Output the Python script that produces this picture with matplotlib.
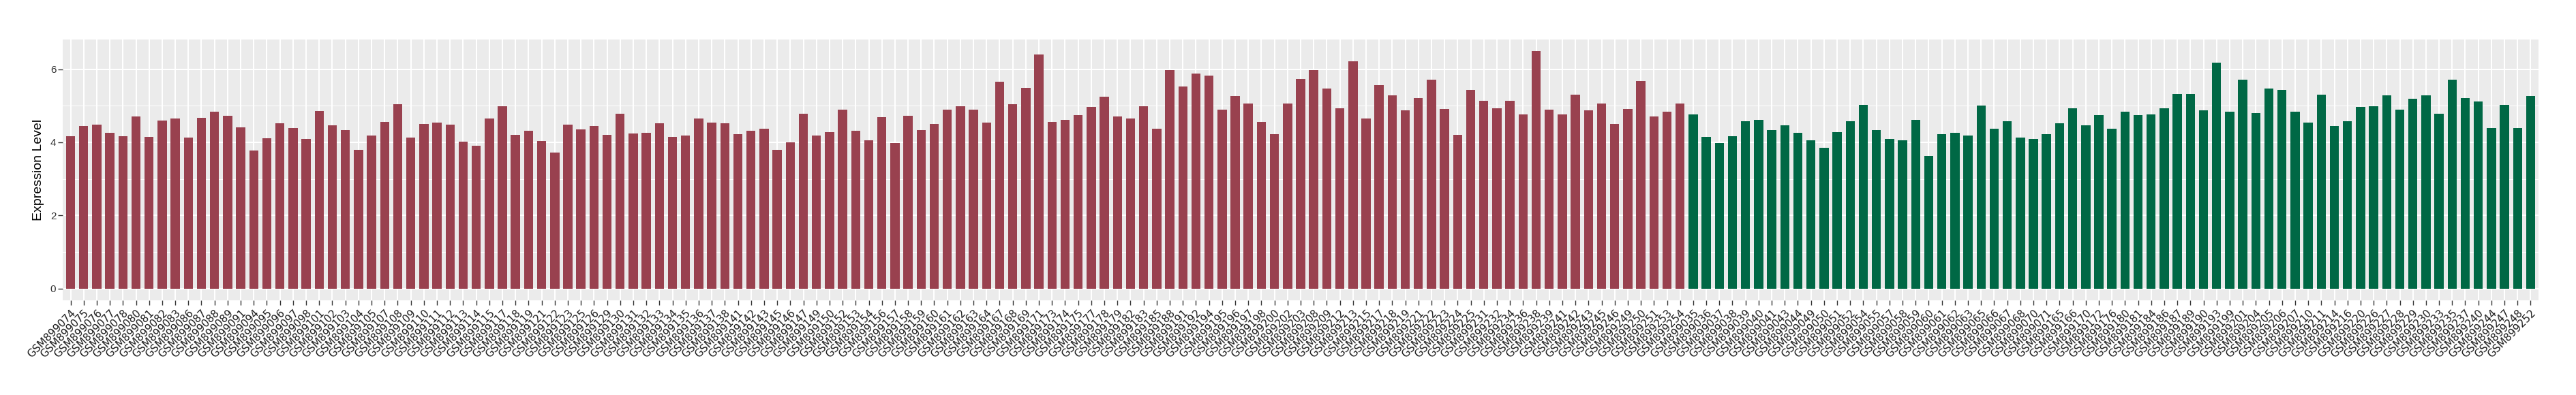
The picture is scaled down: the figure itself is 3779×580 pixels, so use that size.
import numpy as np
import matplotlib
matplotlib.use('Agg')
import matplotlib.pyplot as plt
from matplotlib.ticker import MultipleLocator

# sample ids (GSM899xxx) and expression values
red_ids = [74, 75, 76, 77, 78, 80, 81, 82, 83, 86, 87, 88, 89, 91, 94, 95, 96, 97, 98,
           101, 102, 103, 104, 105, 107, 108, 109, 110, 111, 112, 113, 114,
           115, 117, 118, 119, 121, 122, 123, 125, 126, 129, 130, 131, 132, 133, 134,
           135, 136, 137, 138, 141, 142, 143, 145, 146, 147, 149, 150, 152, 153, 154,
           156, 157, 158, 159, 160, 161,
           162, 163, 164, 167, 168, 169, 171, 173, 174, 175, 177, 178, 179, 182, 183,
           185, 188, 191, 192, 194, 195, 196, 197, 198, 200, 202, 203, 208, 209, 212,
           213, 215, 217, 218, 219, 221, 222,
           223, 224, 225, 231, 232, 234, 236, 238, 239, 241, 242, 243, 245, 246, 249,
           250, 251, 253, 254]
green_ids = [35, 36, 37, 38, 39, 40, 41, 43, 44, 49, 50, 51, 52, 54, 55, 57, 58,
             59, 60, 61, 62, 63, 65, 66, 67, 68, 70, 71,
             165, 166, 170, 172, 176, 180, 181, 184, 186, 187, 189, 190, 193, 199, 201,
             204, 205, 206, 207, 210, 211, 214, 216, 220, 226, 227, 228, 229, 230, 233,
             235, 237, 240, 244, 247, 248, 252]

red_vals = [4.17, 4.45, 4.49, 4.26, 4.17, 4.71, 4.15, 4.60, 4.66, 4.13,
            4.68, 4.83, 4.73, 4.41, 3.78, 4.11, 4.53, 4.39, 4.09, 4.86,
            4.47, 4.34, 3.79, 4.19, 4.56, 5.05, 4.13, 4.51, 4.54, 4.49,
            4.02, 3.91, 4.66, 4.99, 4.21, 4.32, 4.04, 3.72, 4.49, 4.36,
            4.45, 4.21, 4.79, 4.24, 4.26, 4.53, 4.15, 4.19, 4.66, 4.54,
            4.53, 4.23, 4.32, 4.38, 3.79, 4.00, 4.79, 4.19, 4.28, 4.90,
            4.32, 4.06, 4.69, 3.98, 4.73, 4.34, 4.51, 4.90, 4.99, 4.90,
            4.54, 5.65, 5.05, 5.50, 6.40, 4.56, 4.62, 4.75, 4.96, 5.24,
            4.71, 4.66, 4.98, 4.38, 5.97, 5.52, 5.88, 5.82, 4.90, 5.26,
            5.07, 4.56, 4.23, 5.07, 5.74, 5.97, 5.48, 4.94, 6.21, 4.66,
            5.56, 5.28, 4.88, 5.22, 5.72, 4.92, 4.21, 5.44, 5.14, 4.94,
            5.13, 4.77, 6.49, 4.90, 4.77, 5.31, 4.88, 5.07, 4.51, 4.92,
            5.67, 4.71, 4.84, 5.07]
green_vals = [4.77, 4.15, 3.98, 4.17, 4.58, 4.62, 4.34, 4.47, 4.26, 4.06,
              3.85, 4.28, 4.58, 5.03, 4.34, 4.09, 4.06, 4.62, 3.63, 4.23,
              4.26, 4.19, 5.01, 4.38, 4.58, 4.13, 4.09, 4.23, 4.53, 4.94,
              4.47, 4.75, 4.38, 4.84, 4.75, 4.77, 4.94, 5.33, 5.33, 4.88,
              6.19, 4.84, 5.72, 4.81, 5.48, 5.44, 4.84, 4.54, 5.31, 4.45,
              4.58, 4.96, 4.98, 5.29, 4.90, 5.20, 5.29, 4.79, 5.72, 5.22,
              5.11, 4.39, 5.03, 4.39, 5.26]

red_col = '#99414F'
green_col = '#006845'

labels = ['GSM899%03d' % i for i in red_ids + green_ids]
values = red_vals + green_vals
colors = [red_col] * len(red_vals) + [green_col] * len(green_vals)
x = np.arange(len(values))

fig = plt.figure(figsize=(37.8, 5.8), dpi=100)
ax = fig.add_axes([92 / 3780, 1 - 441 / 580, (3724 - 92) / 3780, (441 - 58) / 580])
ax.set_facecolor('#EBEBEB')
ax.bar(x, values, width=0.7, color=colors, zorder=3)

ymax = max(values)
ax.set_ylim(-0.05 * ymax, 1.05 * ymax)
ax.set_xlim(-0.6, len(values) - 0.4)

ax.yaxis.set_major_locator(MultipleLocator(2))
ax.yaxis.set_minor_locator(MultipleLocator(1))
ax.grid(which='major', axis='both', color='white', linewidth=1.5, zorder=0)
ax.grid(which='minor', axis='y', color='white', linewidth=0.75, zorder=0)
ax.set_axisbelow(True)
for s in ax.spines.values():
    s.set_visible(False)

ax.set_xticks(x)
ax.set_xticklabels(labels, rotation=45, ha='right', va='top', rotation_mode='anchor',
                   fontsize=11, family='DejaVu Sans', color='#1A1A1A')
ax.tick_params(axis='x', length=5, width=1, color='#333333', pad=3)
ax.tick_params(axis='y', which='major', length=5, width=1, color='#333333', pad=2,
               labelsize=11, labelcolor='#333333')
ax.tick_params(axis='y', which='minor', length=0)
for t in ax.get_yticklabels():
    t.set_family('Liberation Sans')

ax.set_ylabel('Expression Level', fontsize=14, family='Liberation Sans', labelpad=6)

fig.savefig('out.png', dpi=100)
